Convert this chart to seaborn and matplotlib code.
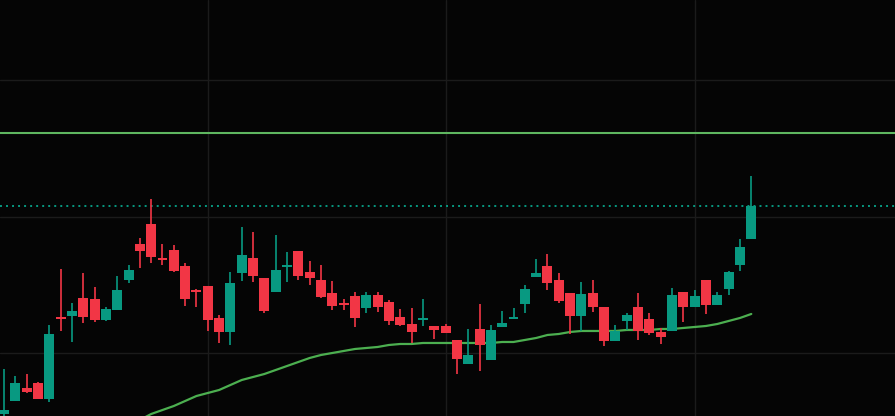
import numpy as np
import pandas as pd
import matplotlib
matplotlib.use("Agg")
import matplotlib.pyplot as plt
import seaborn as sns

sns.set_theme(style="dark")

BG = "#050505"
GRID = "#1b1b1b"
UP = "#089981"
DOWN = "#f23645"
MA_COLOR = "#4caf50"
LEVEL_COLOR = "#5fb760"

# candles
opens = [0.86, 0.99, 1.12, 1.17, 1.01, 1.83, 1.84, 2.02, 2.01, 1.80,
         1.90, 2.20, 2.56, 2.76, 2.42, 2.50, 2.34, 2.10, 2.14, 1.82,
         1.68, 2.27, 2.42, 2.22, 2.08, 2.33, 2.49, 2.28, 2.20, 2.07,
         1.97, 2.04, 1.92, 2.05, 1.98, 1.83, 1.76, 1.80, 1.74, 1.74,
         1.60, 1.36, 1.71, 1.40, 1.73, 1.81, 1.96, 2.23, 2.34, 2.20,
         2.07, 1.84, 2.07, 1.93, 1.59, 1.79, 1.93, 1.81, 1.68, 1.69,
         2.08, 1.93, 2.20, 1.95, 2.11, 2.35, 2.61]
highs = [1.31, 1.24, 1.26, 1.18, 1.75, 2.31, 1.97, 2.27, 2.13, 1.93,
         2.24, 2.35, 2.62, 3.01, 2.56, 2.55, 2.37, 2.11, 2.14, 1.85,
         2.28, 2.73, 2.68, 2.22, 2.65, 2.48, 2.49, 2.39, 2.35, 2.19,
         2.01, 2.08, 2.08, 2.08, 2.00, 1.91, 1.92, 2.01, 1.74, 1.76,
         1.60, 1.71, 1.96, 1.75, 1.89, 1.92, 2.15, 2.41, 2.46, 2.27,
         2.07, 2.18, 2.20, 1.93, 1.75, 1.87, 2.07, 1.87, 1.72, 2.12,
         2.08, 2.10, 2.20, 2.08, 2.29, 2.61, 3.24]
lows = [0.82, 0.99, 1.07, 1.01, 0.98, 1.69, 1.58, 1.77, 1.78, 1.79,
        1.90, 2.17, 2.32, 2.37, 2.35, 2.28, 1.94, 1.93, 1.69, 1.57,
        1.55, 2.19, 2.18, 1.87, 2.08, 2.18, 2.20, 2.15, 2.02, 1.90,
        1.90, 1.73, 1.87, 1.88, 1.75, 1.74, 1.57, 1.74, 1.61, 1.67,
        1.26, 1.36, 1.29, 1.40, 1.73, 1.81, 1.87, 2.23, 2.10, 1.97,
        1.66, 1.69, 1.88, 1.54, 1.59, 1.70, 1.60, 1.65, 1.56, 1.69,
        1.78, 1.93, 1.86, 1.95, 2.05, 2.29, 2.61]
closes = [0.90, 1.17, 1.08, 1.01, 1.66, 1.81, 1.89, 1.83, 1.80, 1.91,
          2.10, 2.30, 2.49, 2.43, 2.40, 2.29, 2.01, 2.08, 1.80, 1.68,
          2.17, 2.45, 2.24, 1.89, 2.30, 2.35, 2.24, 2.22, 2.03, 1.94,
          1.95, 1.82, 2.05, 1.93, 1.79, 1.75, 1.68, 1.82, 1.70, 1.67,
          1.41, 1.45, 1.55, 1.70, 1.77, 1.83, 2.11, 2.27, 2.17, 1.99,
          1.84, 2.06, 1.93, 1.59, 1.69, 1.85, 1.69, 1.67, 1.63, 2.05,
          1.93, 2.04, 1.95, 2.05, 2.28, 2.53, 2.94]

# moving average (longer period, earlier bars off screen)
ma = [np.nan] * 12 + [
    0.80, 0.86, 0.90, 0.94, 0.99, 1.04, 1.07, 1.10, 1.15, 1.20,
    1.23, 1.26, 1.30, 1.34, 1.38, 1.42, 1.45, 1.47, 1.49, 1.51,
    1.52, 1.53, 1.55, 1.56, 1.56, 1.57, 1.57, 1.57, 1.57, 1.57,
    1.57, 1.57, 1.58, 1.58, 1.60, 1.62, 1.65, 1.66, 1.68, 1.69,
    1.69, 1.69, 1.69, 1.70, 1.70, 1.70, 1.71, 1.71, 1.72, 1.73,
    1.74, 1.76, 1.79, 1.82, 1.86]

level_price = 3.67
time_grid = [18, 39, 61]
price_grid = [1.47, 2.83, 4.20]

df = pd.DataFrame({"open": opens, "high": highs, "low": lows,
                   "close": closes, "ma": ma})
df["bar"] = np.arange(len(df))
df["up"] = df["close"] >= df["open"]
df["color"] = np.where(df["up"], UP, DOWN)

fig = plt.figure(figsize=(8.951, 4.161), dpi=100, facecolor=BG)
ax = fig.add_axes([0, 0, 1, 1])
ax.set_facecolor(BG)

# grid
for t in time_grid:
    ax.axvline(t, color=GRID, lw=1.0, zorder=0)
for p in price_grid:
    ax.axhline(p, color=GRID, lw=1.0, zorder=0)

# level + last price lines
ax.axhline(level_price, color=LEVEL_COLOR, lw=1.5, zorder=1)
ax.axhline(df["close"].iloc[-1], color=UP, lw=1.4,
           linestyle=(0, (1, 2.1)), zorder=1)

# moving average
sns.lineplot(data=df, x="bar", y="ma", color=MA_COLOR, lw=1.6, ax=ax, zorder=2)

# wicks and bodies
ax.vlines(df["bar"], df["low"], df["high"], colors=df["color"], lw=1.2, zorder=3)
body_bottom = df[["open", "close"]].min(axis=1)
body_height = (df["close"] - df["open"]).abs().clip(lower=0.018)
ax.bar(df["bar"], body_height, bottom=body_bottom, width=0.88,
       color=df["color"], linewidth=0, zorder=4)

ax.set_xlim(-0.35, 78.7)
ax.set_ylim(0.84, 5.00)
ax.set_xticks([])
ax.set_yticks([])
ax.set_xlabel("")
ax.set_ylabel("")
ax.grid(False)
for s in ax.spines.values():
    s.set_visible(False)

fig.savefig("out.png", dpi=100, facecolor=BG)
